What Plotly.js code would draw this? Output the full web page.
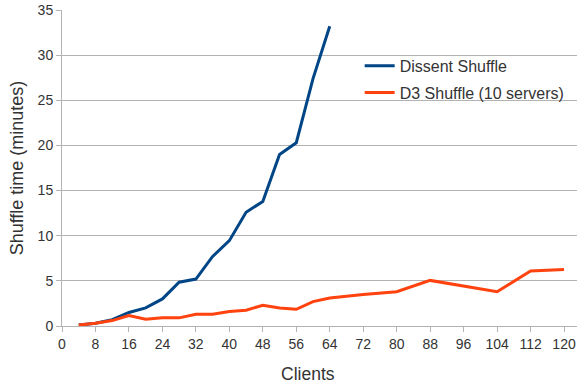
<!DOCTYPE html>
<html>
<head>
<meta charset="utf-8">
<script src="https://cdn.plot.ly/plotly-3.0.1.min.js"></script>
<style>html,body{margin:0;padding:0;background:#fff;}#chart{width:579px;height:386px;}</style>
</head>
<body>
<div id="chart"></div>
<script>
var dissentClients = [4, 8, 12, 16, 20, 24, 28, 32, 36, 40, 44, 48, 52, 56, 60, 64];
var dissentTime = [0.1, 0.3, 0.7, 1.5, 2.0, 3.0, 4.85, 5.2, 7.7, 9.45, 12.6, 13.8, 19.0, 20.3, 27.4, 33.2];
var d3Clients = [4, 8, 12, 16, 20, 24, 28, 32, 36, 40, 44, 48, 52, 56, 60, 64, 72, 80, 88, 96, 104, 112, 120];
var d3Time = [0.1, 0.3, 0.6, 1.15, 0.75, 0.9, 0.9, 1.3, 1.3, 1.6, 1.75, 2.3, 2.0, 1.85, 2.7, 3.1, 3.5, 3.8, 5.05, 4.45, 3.8, 6.1, 6.25];
var xTicks = [0, 8, 16, 24, 32, 40, 48, 56, 64, 72, 80, 88, 96, 104, 112, 120];
var yTicks = [0, 5, 10, 15, 20, 25, 30, 35];

var traces = [
  {x: dissentClients, y: dissentTime, mode: 'lines', name: 'Dissent Shuffle', legendgroup: 'a',
   line: {color: '#004586', width: 3}},
  {x: d3Clients, y: d3Time, mode: 'lines', name: 'D3 Shuffle (10 servers)', legendgroup: 'b',
   line: {color: '#ff420e', width: 3}}
];
var font = {family: 'Liberation Sans, Arial, sans-serif', size: 14, color: '#333'};
var layout = {
  width: 579, height: 386,
  margin: {l: 62, r: 2, t: 10, b: 60},
  paper_bgcolor: '#fff', plot_bgcolor: '#fff',
  font: font,
  showlegend: true,
  legend: {x: 0.578, y: 0.877, xanchor: 'left', yanchor: 'top', bgcolor: 'rgba(0,0,0,0)',
           font: {family: 'Liberation Sans, Arial, sans-serif', size: 16, color: '#333'},
           traceorder: 'grouped', tracegroupgap: 3},
  xaxis: {range: [0, 123.1], tickvals: xTicks, ticktext: xTicks.map(String), showgrid: false,
          zeroline: false, showline: true, linecolor: '#b3b3b3', linewidth: 1,
          ticks: 'outside', ticklen: 5, tickcolor: '#b3b3b3'},
  yaxis: {range: [0, 35], tickvals: yTicks, ticktext: yTicks.map(String), showgrid: true,
          gridcolor: '#b3b3b3', zeroline: false, showline: true, linecolor: '#b3b3b3',
          ticks: 'outside', ticklen: 5, tickcolor: '#b3b3b3',
          title: {text: 'Shuffle time (minutes)', font: {size: 18, color: '#333'}, standoff: 9}},
  annotations: [
    {text: 'Clients', xref: 'paper', yref: 'paper', x: 0.478, y: -0.153, xanchor: 'center', yanchor: 'middle',
     showarrow: false, font: {family: 'Liberation Sans, Arial, sans-serif', size: 17.5, color: '#333'}}
  ]
};
Plotly.newPlot('chart', traces, layout, {staticPlot: true, displayModeBar: false});
</script>
</body>
</html>
